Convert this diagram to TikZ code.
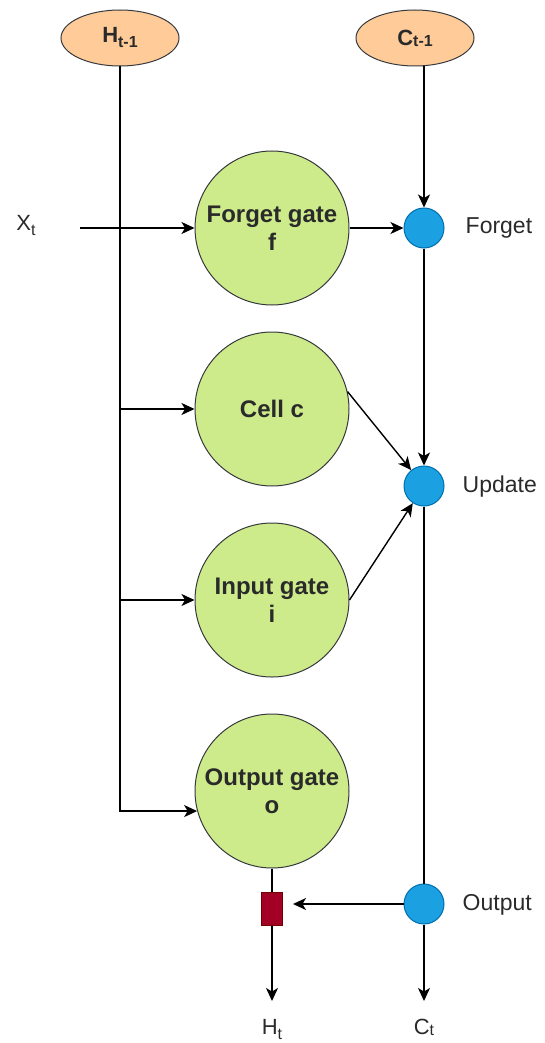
\documentclass[tikz,border=0pt]{standalone}
\usepackage{fontspec}
\setmainfont{Liberation Sans}
\usetikzlibrary{arrows.meta,shapes.geometric}
\definecolor{orfill}{HTML}{FFCC99}
\definecolor{shstroke}{HTML}{36393D}
\definecolor{gfill}{HTML}{CDEB8B}
\definecolor{bfill}{HTML}{1BA1E2}
\definecolor{bstroke}{HTML}{006EAF}
\definecolor{rfill}{HTML}{A20025}
\definecolor{rstroke}{HTML}{6F0000}
\definecolor{txt}{HTML}{2A2A2A}
\newcommand\lowsub[2]{\raisebox{-#1pt}{\fontsize{16}{16}\selectfont #2}}
\begin{document}
\begin{tikzpicture}[x=1pt,y=-1pt,line width=1.4pt,
  arr/.style={-{Stealth[length=13pt,width=12pt,inset=3.5pt]}},
  inp/.style={ellipse,draw=shstroke,fill=orfill,minimum width=118pt,minimum height=56pt,inner sep=0pt,line width=1pt,text=txt,font=\fontsize{22}{22}\selectfont\bfseries},
  gate/.style={circle,draw=shstroke,fill=gfill,minimum size=154pt,inner sep=0pt,align=center,line width=1pt,text=txt,font=\fontsize{24}{28}\selectfont\bfseries},
  dotnode/.style={circle,draw=bstroke,fill=bfill,minimum size=40pt,inner sep=0pt,line width=1pt},
  gatebox/.style={rectangle,draw=rstroke,fill=rfill,minimum width=21pt,minimum height=33pt,inner sep=0pt,line width=1pt},
  lbl/.style={text=txt,font=\fontsize{23}{23}\selectfont,inner sep=0pt},
  io/.style={text=txt,font=\fontsize{22}{22}\selectfont,inner sep=0pt}
]
\useasboundingbox (0,0) rectangle (544,1043);
% inputs
\node[inp] (H) at (120,38) {H\lowsub{5}{t-1}};
\node[inp] (C) at (415,38) {C\lowsub{1}{t-1}};
% gates
\node[gate] (fg) at (272,228) {Forget gate\\f};
\node[gate] (cc) at (272,409) {Cell c};
\node[gate] (ig) at (272,600) {Input gate\\i};
\node[gate] (og) at (272,791) {Output gate\\o};
% pointwise ops
\node[dotnode] (F) at (424,228) {};
\node[dotnode] (U) at (424,486) {};
\node[dotnode] (O) at (424,904) {};
\node[gatebox] (R) at (272,909) {};
% labels
\node[lbl,anchor=base west] (lf) at (465,233) {Forget};
\node[lbl,anchor=base west] (lu) at (462,492) {Update};
\node[lbl,anchor=base west] (lo) at (462,910) {Output};
\node[io,anchor=base] (X) at (26,230) {X\lowsub{5}{t}};
\node[io,anchor=base] (Ht) at (272,1034) {H\lowsub{5}{t}};
\node[io,anchor=base] (Ct) at (424,1034) {C\lowsub{1}{t}};
% coordinates
\coordinate (xs) at (80,228);
\coordinate (hte) at (272,1001);
\coordinate (cte) at (424,1001);
% connectors
\draw[arr] (xs) -- (fg.west);
\draw[arr] (H.south) |- (og.195);
\draw[arr] (H.south |- cc.west) -- (cc.west);
\draw[arr] (H.south |- ig.west) -- (ig.west);
\draw[arr] (F.north |- C.south) -- (F.north);
\draw[arr] (fg.east) -- (F.west);
\draw[arr] (F.south) -- (U.north);
\draw[arr] (cc.13) -- (U);
\draw[arr] (ig.east) -- (U);
\draw (U.south) -- (O.north);
\draw[arr,shorten >=10pt] (O.west) -- (R.east |- O.west);
\draw (og.south) -- (R.north);
\draw[arr] (R.south) -- (hte);
\draw[arr] (O.south) -- (cte);
\end{tikzpicture}
\end{document}
